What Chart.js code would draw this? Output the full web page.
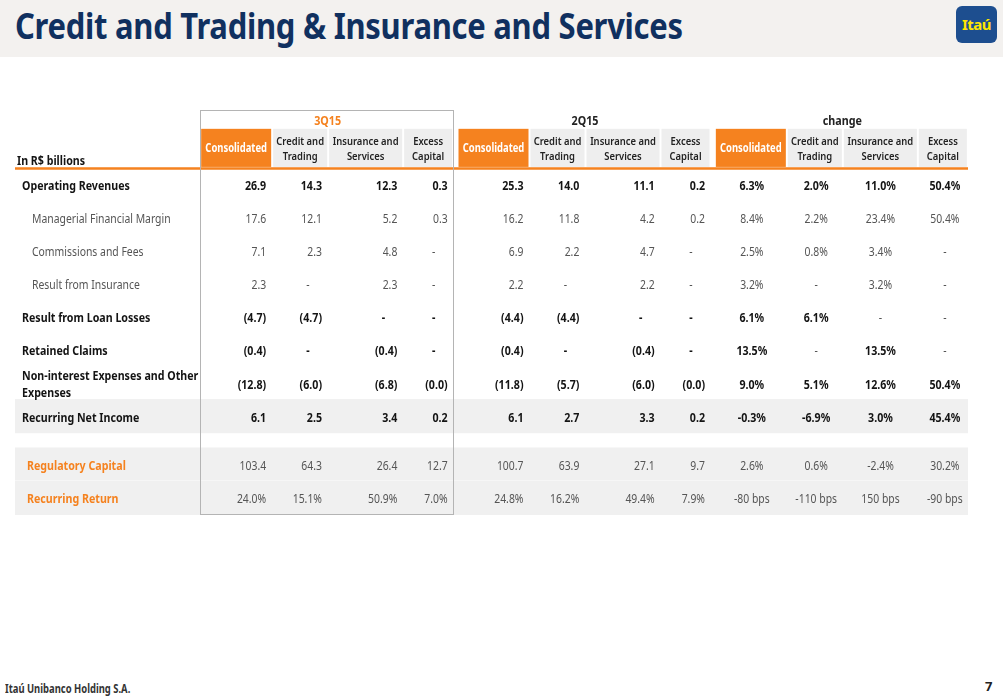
<!DOCTYPE html>
<html>
<head>
<meta charset="utf-8">
<script src="https://cdn.jsdelivr.net/npm/chart.js@4"></script>
<style>
  html, body { margin: 0; padding: 0; background: #fff; }
  #page { position: relative; width: 1003px; height: 696px; overflow: hidden; font-family: "Noto Sans", sans-serif; }
  #banda { position: absolute; left: 0; top: 0; width: 1003px; height: 57px; background: #f3f1ef; }
  #titulo { position: absolute; left: 15px; top: 2px; margin: 0; font-size: 35px; font-weight: bold; color: #10305f;
            white-space: nowrap; transform: scaleX(0.885); transform-origin: left top; letter-spacing: -0.3px; }
  #logo { position: absolute; left: 956px; top: 6px; width: 41px; height: 37px; background: #1d4e8f; border-radius: 6px;
          color: #ffe600; font-weight: bold; font-size: 15px; line-height: 37px; text-align: center; letter-spacing: -0.5px; }
  #rodape { position: absolute; left: 5px; top: 681px; font-size: 11.5px; font-weight: bold; color: #333;
            transform: scaleX(0.82); transform-origin: left top; white-space: nowrap; }
  #pagina { position: absolute; left: 985px; top: 677px; font-size: 13px; font-weight: bold; color: #222; }
  #tabela { position: absolute; left: 0; top: 0; }
</style>
</head>
<body>
<div id="page">
  <div id="banda"></div>
  <h1 id="titulo">Credit and Trading &amp; Insurance and Services</h1>
  <div id="logo">Itaú</div>
  <div id="rodape">Itaú Unibanco Holding S.A.</div>
  <div id="pagina">7</div>
  <canvas id="tabela" width="1003" height="696"></canvas>
</div>
<script>
// --- Dados ---
const periodos = ['3Q15', '2Q15', 'change'];
const colunas = ['Consolidated', 'Credit and\nTrading', 'Insurance and\nServices', 'Excess\nCapital'];
const linhas = ['Operating Revenues', 'Managerial Financial Margin', 'Commissions and Fees', 'Result from Insurance',
    'Result from Loan Losses', 'Retained Claims', 'Non-interest Expenses and Other\nExpenses', 'Recurring Net Income',
    'Regulatory Capital', 'Recurring Return'];
const tipoLinha = ['bold', 'sub', 'sub', 'sub', 'bold', 'bold', 'bold', 'total', 'capital', 'capital'];

// null = "-" ; -0 = "(0.0)"
const q3Consolidado = [26.9, 17.6, 7.1, 2.3, -4.7, -0.4, -12.8, 6.1, 103.4, 24.0];
const q3Credito     = [14.3, 12.1, 2.3, null, -4.7, null, -6.0, 2.5, 64.3, 15.1];
const q3Seguros     = [12.3, 5.2, 4.8, 2.3, null, -0.4, -6.8, 3.4, 26.4, 50.9];
const q3Excesso     = [0.3, 0.3, null, null, null, null, -0, 0.2, 12.7, 7.0];

const q2Consolidado = [25.3, 16.2, 6.9, 2.2, -4.4, -0.4, -11.8, 6.1, 100.7, 24.8];
const q2Credito     = [14.0, 11.8, 2.2, null, -4.4, null, -5.7, 2.7, 63.9, 16.2];
const q2Seguros     = [11.1, 4.2, 4.7, 2.2, null, -0.4, -6.0, 3.3, 27.1, 49.4];
const q2Excesso     = [0.2, 0.2, null, null, null, null, -0, 0.2, 9.7, 7.9];

// variação em %, última linha em bps
const varConsolidado = [6.3, 8.4, 2.5, 3.2, 6.1, 13.5, 9.0, -0.3, 2.6, -80];
const varCredito     = [2.0, 2.2, 0.8, null, 6.1, null, 5.1, -6.9, 0.6, -110];
const varSeguros     = [11.0, 23.4, 3.4, 3.2, null, 13.5, 12.6, 3.0, -2.4, 150];
const varExcesso     = [50.4, 50.4, null, null, null, null, 50.4, 45.4, 30.2, -90];

const series = [q3Consolidado, q3Credito, q3Seguros, q3Excesso,
                q2Consolidado, q2Credito, q2Seguros, q2Excesso,
                varConsolidado, varCredito, varSeguros, varExcesso];

// --- Layout (posições em unidades da escala) ---
const posLinha = [0, 1, 2, 3, 4, 5, 6, 7, 8.46, 9.47];
const laranja = '#f5821f';
const cinzaCelula = '#eeeeee';
const cinzaFaixa = '#f0f0f0';
const corForte = '#141414';
const corLeve = '#555555';
const fonte = '"Noto Sans", sans-serif';
const compressao = 0.86;
const ajusteY = 1.5; // o "middle" do canvas fica um pouco alto
const bordasColuna = [-34, 37, 93, 168, 218]; // bordas das células de cabeçalho, relativas ao centro da 1a coluna do grupo
const deslocDireita = [31, 22.5, 33.5, 19.5];   // alinhamento à direita dos valores (3Q15 e 2Q15)
const tabelaEsq = 15, tabelaDir = 968;

const formatar = (v, col, linha) => {
    if (v === null) return '-';
    if (col >= 8) return linha === 9 ? `${v} bps` : `${v.toFixed(1)}%`;
    if (linha === 9) return `${v.toFixed(1)}%`;
    if (v < 0 || Object.is(v, -0)) return `(${Math.abs(v).toFixed(1)})`;
    return v.toFixed(1);
};

const texto = (ctx, s, x, y, peso, tamanho, cor, alinhar, comp = compressao) => {
    ctx.save();
    ctx.font = `${peso} ${tamanho}px ${fonte}`;
    ctx.fillStyle = cor;
    ctx.textBaseline = 'middle';
    ctx.textAlign = alinhar;
    ctx.translate(x, y + ajusteY);
    ctx.scale(comp, 1);
    ctx.fillText(s, 0, 0);
    ctx.restore();
};

const pluginTabela = {
    id: 'tabela',
    afterDraw(chart) {
        const ctx = chart.ctx;
        const sx = chart.scales.x, sy = chart.scales.y;
        const cx = i => sx.getPixelForValue(i);
        const cy = v => sy.getPixelForValue(v);

        // faixas cinzas
        ctx.fillStyle = cinzaFaixa;
        [7, 8, 9].forEach(i => {
            const y0 = cy(posLinha[i] - 0.53), y1 = cy(posLinha[i] + 0.5);
            ctx.fillRect(tabelaEsq, y0, tabelaDir - tabelaEsq, y1 - y0 - (i === 8 ? 1 : 0));
        });

        // cabeçalhos de coluna
        const topoCab = cy(-1.69), baseCab = cy(-0.54);
        periodos.forEach((p, g) => {
            const base = cx(g * 4);
            for (let c = 0; c < 4; c++) {
                const x0 = base + bordasColuna[c] + (c > 0 ? 1 : 0);
                const x1 = base + bordasColuna[c + 1] - 1;
                ctx.fillStyle = c === 0 ? laranja : cinzaCelula;
                ctx.fillRect(x0, topoCab, x1 - x0, baseCab - topoCab);
                const meio = (x0 + x1) / 2;
                const partes = colunas[c].split('\n');
                partes.forEach((t, k) => {
                    const yy = cy(-1.12) + (k - (partes.length - 1) / 2) * 15;
                    texto(ctx, t, meio, yy, c === 0 ? 'bold' : '600', 11.5, c === 0 ? '#fff' : '#222', 'center', 0.82);
                });
            }
            const meioGrupo = (cx(g * 4 + 1) + cx(g * 4 + 2)) / 2 - 4;
            texto(ctx, p, meioGrupo, cy(-1.96), 'bold', 12.5, g === 0 ? laranja : '#222', 'center');
        });

        // linha laranja
        ctx.fillStyle = laranja;
        ctx.fillRect(tabelaEsq, cy(-0.53), tabelaDir - tabelaEsq, 2.5);

        texto(ctx, 'In R$ billions', 17, cy(-0.76), 'bold', 12.4, corForte, 'left');

        // linhas
        linhas.forEach((rotulo, i) => {
            const tipo = tipoLinha[i];
            const y = cy(posLinha[i]);
            const partes = rotulo.split('\n');
            partes.forEach((t, k) => {
                const yy = y + (k - (partes.length - 1) / 2) * 17;
                if (tipo === 'sub') texto(ctx, t, 32, yy, 'normal', 12.1, corLeve, 'left');
                else if (tipo === 'capital') texto(ctx, t, 27, yy, 'bold', 12.4, laranja, 'left');
                else texto(ctx, t, 22, yy, 'bold', 12.4, corForte, 'left');
            });

            series.forEach((serie, col) => {
                const v = serie[i];
                const s = formatar(v, col, i);
                const forte = tipo === 'bold' || tipo === 'total';
                const grupo = Math.floor(col / 4), c = col % 4;
                const peso = forte && (v !== null || grupo < 2) ? 'bold' : 'normal';
                const cor = peso === 'bold' ? corForte : corLeve;
                const tam = peso === 'bold' ? 12.4 : 12.1;
                if (grupo === 2) {
                    texto(ctx, s, cx(col) + 2, y, peso, tam, cor, 'center');
                } else if (v === null) {
                    texto(ctx, s, cx(col) + deslocDireita[c] - 14, y, peso, tam, cor, 'center');
                } else {
                    texto(ctx, s, cx(col) + deslocDireita[c], y, peso, tam, cor, 'right');
                }
            });
        });

        // caixa do 3Q15
        ctx.strokeStyle = '#b4b4b4';
        ctx.lineWidth = 1;
        const bx0 = Math.round(cx(0) + bordasColuna[0]) - 0.5;
        const bx1 = Math.round(cx(3) + 25) + 0.5;
        const by0 = Math.round(cy(-2.27)) + 0.5, by1 = Math.round(cy(9.94)) + 0.5;
        ctx.strokeRect(bx0, by0, bx1 - bx0, by1 - by0);
    }
};

new Chart(document.getElementById('tabela'), {
    type: 'bar',
    data: {
        labels: series.map((_, i) => `${periodos[Math.floor(i / 4)]} ${colunas[i % 4].replace('\n', ' ')}`),
        datasets: []
    },
    options: {
        responsive: false,
        animation: false,
        devicePixelRatio: 1,
        layout: { padding: { left: 203, right: 28, top: 102, bottom: 180 } },
        plugins: { legend: { display: false }, tooltip: { enabled: false }, title: { display: false } },
        scales: {
            x: { type: 'category', offset: true, display: false },
            y: { type: 'linear', min: -2.5, max: 10, reverse: true, display: false }
        }
    },
    plugins: [pluginTabela]
});
</script>
</body>
</html>
